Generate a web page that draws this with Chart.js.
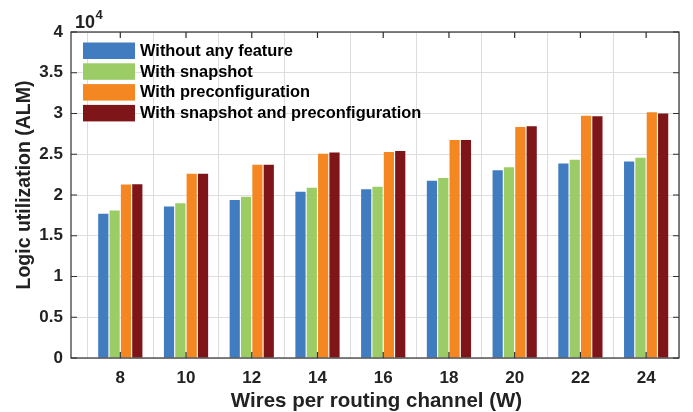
<!DOCTYPE html>
<html>
<head>
<meta charset="utf-8">
<script src="https://cdn.jsdelivr.net/npm/chart.js@4/dist/chart.umd.min.js"></script>
<style>
html,body{margin:0;padding:0;background:#fff;}
#wrap{width:693px;height:412px;position:relative;}
</style>
</head>
<body>
<div id="wrap"><canvas id="c" width="693" height="412"></canvas></div>
<script>
// ---- data ----
const wires = [8, 10, 12, 14, 16, 18, 20, 22, 24];
const withoutFeature   = [17700, 18600, 19400, 20400, 20700, 21750, 23050, 23850, 24100];
const withSnapshot     = [18100, 19000, 19800, 20900, 21000, 22100, 23400, 24330, 24580];
const withPreconfig    = [21300, 22600, 23700, 25070, 25280, 26750, 28350, 29730, 30150];
const withBoth         = [21320, 22600, 23700, 25200, 25400, 26750, 28450, 29650, 30000];
const seriesNames = ['Without any feature', 'With snapshot', 'With preconfiguration', 'With snapshot and preconfiguration'];
const seriesColors = ['#417CC0', '#9BCC66', '#F58723', '#7E1519'];
const yTicks = [0, 5000, 10000, 15000, 20000, 25000, 30000, 35000, 40000];
const xTitle = 'Wires per routing channel (W)';
const yTitle = 'Logic utilization (ALM)';
const exponentBase = '10';
const exponentPow = '4';

const FONT = '"Liberation Sans", Arial, Helvetica, sans-serif';
const AXIS = '#2f2f2f';
const GRID = '#dedede';
const TEXT = '#222';

const seriesValues = [withoutFeature, withSnapshot, withPreconfig, withBoth];
const datasets = seriesValues.map((vals, i) => ({
  label: seriesNames[i],
  data: vals.map((v, j) => ({x: wires[j], y: v})),
  backgroundColor: seriesColors[i],
  borderWidth: 0,
  categoryPercentage: 0.69,
  barPercentage: 0.9
}));

const framePlugin = {
  id: 'frame',
  afterDatasetsDraw(chart) {
    const ctx = chart.ctx;
    const a = chart.chartArea;
    const xs = chart.scales.x, ys = chart.scales.y;
    ctx.save();
    // box
    ctx.strokeStyle = AXIS;
    ctx.lineWidth = 1.2;
    ctx.strokeRect(a.left, a.top, a.right - a.left, a.bottom - a.top);
    // inward ticks
    ctx.beginPath();
    const L = 6;
    xs.ticks.forEach(t => {
      const px = xs.getPixelForValue(t.value);
      ctx.moveTo(px, a.bottom); ctx.lineTo(px, a.bottom - L);
      ctx.moveTo(px, a.top); ctx.lineTo(px, a.top + L);
    });
    ys.ticks.forEach(t => {
      const py = ys.getPixelForValue(t.value);
      ctx.moveTo(a.left, py); ctx.lineTo(a.left + L, py);
      ctx.moveTo(a.right, py); ctx.lineTo(a.right - L, py);
    });
    ctx.stroke();

    // legend
    const lx = a.left + 12, ly0 = a.top + 10.5, step = 20.8, bw = 52, bh = 16.5;
    ctx.font = 'bold 16.4px ' + FONT;
    ctx.textBaseline = 'middle';
    ctx.textAlign = 'left';
    chart.data.datasets.forEach((ds, i) => {
      const y = ly0 + i * step;
      ctx.fillStyle = ds.backgroundColor;
      ctx.fillRect(lx, y, bw, bh);
      ctx.fillStyle = '#000';
      ctx.fillText(ds.label, lx + bw + 5, y + bh / 2 + 0.5);
    });

    // exponent label
    ctx.fillStyle = TEXT;
    ctx.textBaseline = 'alphabetic';
    ctx.font = 'bold 18px ' + FONT;
    ctx.fillText(exponentBase, a.left + 4, a.top - 4.5);
    const w = ctx.measureText(exponentBase).width;
    ctx.font = 'bold 13px ' + FONT;
    ctx.fillText(exponentPow, a.left + 4 + w + 0.5, a.top - 13);

    // axis titles
    ctx.font = 'bold 20.5px ' + FONT;
    ctx.textAlign = 'center';
    ctx.fillText(xTitle, (a.left + a.right) / 2 + 1.5, 406.5);
    ctx.save();
    ctx.translate(30, (a.top + a.bottom) / 2 - 10);
    ctx.rotate(-Math.PI / 2);
    ctx.font = 'bold 19.5px ' + FONT;
    ctx.fillText(yTitle, 0, 0);
    ctx.restore();
    ctx.restore();
  }
};

new Chart(document.getElementById('c'), {
  type: 'bar',
  data: { datasets },
  options: {
    responsive: false,
    animation: false,
    devicePixelRatio: 1,
    layout: { padding: { left: 0, right: 14, top: 32, bottom: 0 } },
    plugins: { legend: { display: false }, tooltip: { enabled: false } },
    scales: {
      x: {
        type: 'linear',
        min: 6.5,
        max: 25,
        offset: false,
        afterBuildTicks(scale) { scale.ticks = wires.map(v => ({ value: v })); },
        afterFit(scale) { scale.height = 54; },
        grid: { color: GRID, drawTicks: false, lineWidth: 1 },
        border: { display: false },
        ticks: {
          padding: 10,
          color: TEXT,
          font: { family: FONT, size: 17, weight: 'bold' },
          callback: v => String(v),
          maxRotation: 0,
          autoSkip: false
        },
        title: { display: false }
      },
      y: {
        min: 0,
        max: 40000,
        afterBuildTicks(scale) { scale.ticks = yTicks.map(v => ({ value: v })); },
        afterFit(scale) { scale.width = 71; },
        grid: { color: GRID, drawTicks: false, lineWidth: 1 },
        border: { display: false },
        ticks: {
          padding: 8,
          color: TEXT,
          font: { family: FONT, size: 17, weight: 'bold' },
          callback: v => String(v / 10000)
        },
        title: { display: false }
      }
    }
  },
  plugins: [framePlugin]
});
</script>
</body>
</html>
